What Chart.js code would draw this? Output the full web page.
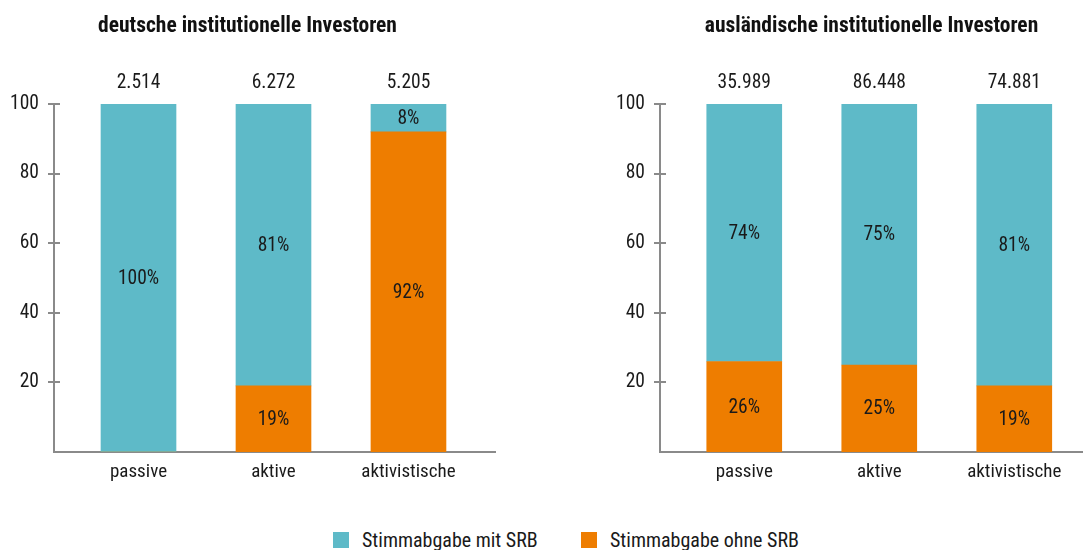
<!DOCTYPE html>
<html>
<head>
<meta charset="utf-8">
<script src="https://cdn.jsdelivr.net/npm/chart.js@4/dist/chart.umd.min.js"></script>
<style>
  html, body { margin: 0; padding: 0; background: #fff; }
  #wrap { position: relative; width: 1083px; height: 550px; overflow: hidden; }
  canvas { position: absolute; top: 0; }
  #c1 { left: 0; }
  #c2 { left: 560px; }
  .lg { position: absolute; top: 528px; display: flex; align-items: center; white-space: nowrap;
        font-size: 20px; color: #1a1a1a; }
  .lg span.box { display: inline-block; width: 16px; height: 16px; margin-right: 13px; }
</style>
</head>
<body>
<div id="wrap">
  <canvas id="c1" width="540" height="500"></canvas>
  <canvas id="c2" width="523" height="500"></canvas>
  <div id="legend"></div>
</div>
<script>
// ---- data ----
const categories = ['passive', 'aktive', 'aktivistische'];
const deMitSRB  = [100, 81, 8];
const deOhneSRB = [0, 19, 92];
const auMitSRB  = [74, 75, 81];
const auOhneSRB = [26, 25, 19];
const deTotals = [2514, 6272, 5205];
const auTotals = [35989, 86448, 74881];
const yTicks = [20, 40, 60, 80, 100];
const seriesNames = ['Stimmabgabe mit SRB', 'Stimmabgabe ohne SRB'];
const titles = ['deutsche institutionelle Investoren', 'ausländische institutionelle Investoren'];

// ---- style ----
const FONT = "'Liberation Sans Narrow', 'Roboto Condensed', 'DejaVu Sans Condensed', Roboto, sans-serif";
const TEAL = '#5EBAC8';
const ORANGE = '#EE7D00';
const AXIS = '#8a8a8a';
const TEXT = '#1a1a1a';
Chart.defaults.font.family = FONT;
Chart.defaults.font.size = 19;
Chart.defaults.color = TEXT;

document.getElementById('wrap').style.fontFamily = FONT;

function fmtDE(n) { return String(n).replace(/\B(?=(\d{3})+(?!\d))/g, '.'); }
function pts(arr) { return arr.map((v, i) => ({ x: i, y: v })); }

const labelPlugin = {
  id: 'labels',
  afterDatasetsDraw(chart, args, opts) {
    const ctx = chart.ctx;
    const y = chart.scales.y;
    ctx.save();
    ctx.font = '19.5px ' + FONT;
    ctx.fillStyle = TEXT;
    ctx.textAlign = 'center';
    ctx.textBaseline = 'middle';
    chart.data.datasets.forEach((ds, di) => {
      const meta = chart.getDatasetMeta(di);
      meta.data.forEach((bar, i) => {
        const v = ds.data[i].y;
        if (!v) return;
        ctx.fillText(v + '%', bar.x, (bar.y + bar.base) / 2 + 1);
      });
    });
    // totals above stacks
    const meta0 = chart.getDatasetMeta(0);
    opts.totals.forEach((t, i) => {
      const bar = meta0.data[i];
      ctx.fillText(fmtDE(t), bar.x, y.getPixelForValue(100) - 21);
    });
    ctx.restore();
  },
  afterDraw(chart) {
    // inner half of the crossing tick marks
    const ctx = chart.ctx;
    const y = chart.scales.y;
    const left = chart.chartArea.left;
    ctx.save();
    ctx.strokeStyle = AXIS;
    ctx.lineWidth = 2;
    y.ticks.forEach(t => {
      const py = Math.round(y.getPixelForValue(t.value));
      ctx.beginPath();
      ctx.moveTo(left, py);
      ctx.lineTo(left + 6, py);
      ctx.stroke();
    });
    ctx.restore();
  }
};

function makeChart(id, mit, ohne, totals, title, xmin, xmax, yWidth, padRight, fullTitle) {
  return new Chart(document.getElementById(id), {
    type: 'bar',
    data: {
      datasets: [
        { label: seriesNames[1], data: pts(ohne), backgroundColor: ORANGE, barThickness: 75 },
        { label: seriesNames[0], data: pts(mit), backgroundColor: TEAL, barThickness: 75 }
      ]
    },
    options: {
      responsive: false,
      animation: false,
      layout: { padding: { left: 0, right: padRight, top: 0, bottom: 0 } },
      plugins: {
        legend: { display: false },
        tooltip: { enabled: false },
        title: {
          display: true, text: title, fullSize: fullTitle,
          font: { size: 21.5, weight: 'bold', family: FONT }, color: '#111',
          padding: { top: 13.5, bottom: 64.7 }
        },
        labels: { totals: totals }
      },
      scales: {
        x: {
          type: 'linear', stacked: true, offset: false, min: xmin, max: xmax,
          afterBuildTicks: s => { s.ticks = categories.map((c, i) => ({ value: i })); },
          afterFit: s => { s.height = 48; },
          ticks: { autoSkip: false, padding: 9, color: TEXT, font: { size: 19 },
                   callback: v => categories[v] },
          grid: { display: false, drawTicks: false, offset: false },
          border: { display: true, color: AXIS, width: 2 }
        },
        y: {
          stacked: true, min: 0, max: 100,
          afterBuildTicks: s => { s.ticks = yTicks.map(v => ({ value: v })); },
          afterFit: s => { s.width = yWidth; },
          ticks: { padding: 9, color: TEXT, font: { size: 19.5 } },
          grid: { display: true, drawOnChartArea: false, drawTicks: true, tickLength: 6, color: AXIS, lineWidth: 2 },
          border: { display: true, color: AXIS, width: 2 }
        }
      }
    },
    plugins: [labelPlugin]
  });
}

makeChart('c1', deMitSRB, deOhneSRB, deTotals, titles[0], -0.626, 2.641, 54, 45, true);
makeChart('c2', auMitSRB, auOhneSRB, auTotals, titles[1], -0.624, 2.509, 100, 0, false);

// legend (HTML, from series list)
const legendColors = [TEAL, ORANGE];
const legendLeft = [333, 581];
const lg = document.getElementById('legend');
seriesNames.forEach((name, i) => {
  const d = document.createElement('div');
  d.className = 'lg';
  d.style.left = legendLeft[i] + 'px';
  const b = document.createElement('span');
  b.className = 'box';
  b.style.background = legendColors[i];
  const t = document.createElement('span');
  t.textContent = name;
  d.appendChild(b); d.appendChild(t);
  lg.appendChild(d);
});
</script>
</body>
</html>
